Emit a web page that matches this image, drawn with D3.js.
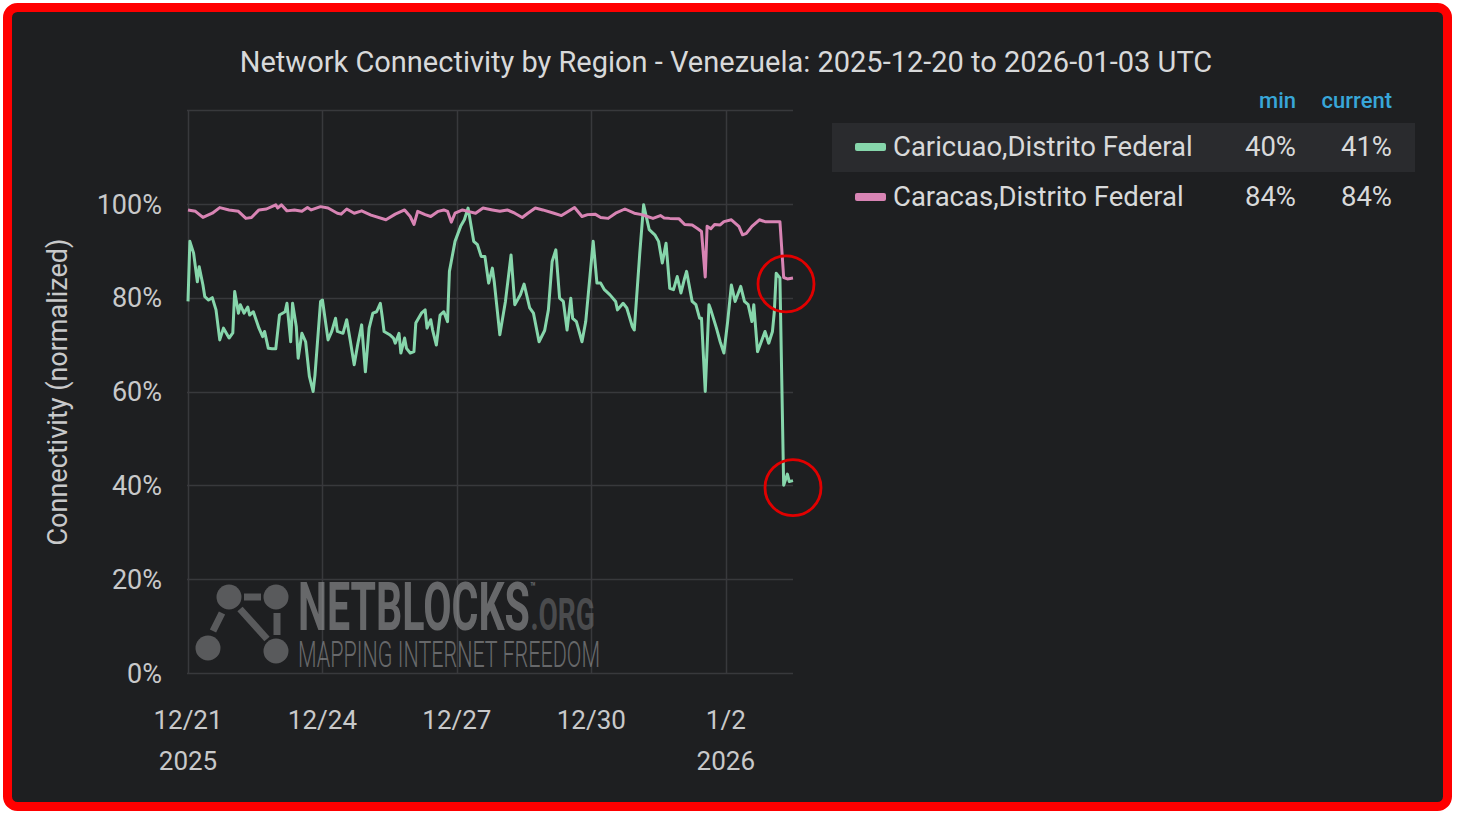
<!DOCTYPE html>
<html>
<head>
<meta charset="utf-8">
<script src="https://cdn.jsdelivr.net/npm/d3@7"></script>
<style>
  html, body { margin: 0; padding: 0; background: #ffffff; }
  svg { display: block; }
  text { font-family: Roboto, "Noto Sans", sans-serif; }
</style>
</head>
<body>
<svg id="chart" width="1457" height="815"></svg>
<script>
// ---------------- data ----------------
const titleText = "Network Connectivity by Region - Venezuela: 2025-12-20 to 2026-01-03 UTC";
const yAxisTitle = "Connectivity (normalized)";
const seriesNames = ["Caricuao,Distrito Federal", "Caracas,Distrito Federal"];
const seriesMin = ["40%", "84%"];
const seriesCurrent = ["41%", "84%"];
const legendHeaders = ["min", "current"];

const yTicks = [0, 20, 40, 60, 80, 100];
const yTickLabels = ["0%", "20%", "40%", "60%", "80%", "100%"];
const xTickDates = ["2025-12-21", "2025-12-24", "2025-12-27", "2025-12-30", "2026-01-02"];
const xTickLabels = ["12/21", "12/24", "12/27", "12/30", "1/2"];
const xTickYears = ["2025", "", "", "", "2026"];

// hours since 2025-12-21 00:00 UTC
const caricuaoHours = [0,1,3,5,6,8,9,11,13,15,17,19,22,24,25,27,28,30,32,33,35,38,40,41,43,45,47,49,52,53,55,56,58,59,61,63,65,67,68,71,72,75,77,79,80,83,85,87,89,91,93,95,97,99,101,103,104,105,108,110,111,113,114,116,117,119,121,122,125,127,128,130,131,133,135,137,139,140,143,146,148,150,153,155,157,159,161,163,164,167,170,173,175,178,180,183,185,188,191,193,195,197,199,201,203,205,206,208,211,213,217,219,221,223,226,229,230,233,235,238,239,242,244,247,250,252,254,256,258,260,262,264,266,267,270,272,274,275,277,279,280,283,285,287,289,291,293,295,296,298,300,302,303,305,307,309,311,313,314,315,317,319,321,322,324];
const caricuaoValues = [79.2,92.0,89.5,83.4,86.6,82.7,80.2,79.5,80.0,77.4,71.0,73.5,71.4,72.5,81.3,76.7,78.5,76.7,78.0,76.3,77.0,73.5,71.7,72.8,69.2,69.1,69.1,76.3,77.0,78.8,70.6,78.8,73.8,67.1,72.4,70.6,63.2,60.0,63.5,79.2,79.5,71.0,72.8,75.6,72.8,72.4,75.3,70.6,65.7,70.3,74.2,64.2,73.5,76.7,77.0,78.8,76.0,72.8,72.1,71.4,70.3,72.4,68.2,71.4,69.2,68.2,68.5,74.6,76.7,77.4,73.5,75.3,73.1,69.9,76.3,77.0,74.9,85.6,92.0,95.2,96.6,99.1,92.0,91.3,88.8,88.8,83.1,86.3,83.4,72.1,79.2,89.1,78.5,80.6,82.9,77.8,76.7,70.6,73.0,77.4,87.7,90.2,79.9,79.2,73.1,79.9,75.6,74.9,70.6,74.9,92.0,83.1,83.1,81.7,80.6,79.2,77.4,78.8,77.8,73.8,73.1,89.8,99.8,94.5,93.4,92.0,87.4,91.6,82.0,81.7,84.5,81.0,84.2,85.6,79.2,78.5,75.6,75.6,60.0,78.5,77.4,73.5,70.6,68.2,74.9,82.7,79.2,81.3,82.4,79.2,78.5,74.9,78.5,68.5,70.6,72.8,70.3,72.8,77.0,85.2,84.2,40.0,42.4,40.8,41.0];

const caracasHours = [0,4,8,13,17,22,27,31,34,38,42,47,48,50,53,57,61,64,66,71,75,80,82,85,89,93,98,106,111,116,119,121,123,127,130,134,137,139,141,143,147,150,154,158,163,167,171,175,179,182,186,190,196,200,202,207,211,214,218,221,225,229,234,239,243,246,249,253,255,258,263,266,270,273,275,277,278,280,282,285,287,291,295,297,299,302,306,309,312,317,319,321,324];
const caracasValues = [98.7,98.4,97.1,98.0,99.2,98.7,98.4,96.9,97.1,98.7,98.9,99.8,99.1,99.8,98.5,98.7,98.4,99.2,98.7,99.4,99.1,98.0,97.8,98.9,98.0,98.5,97.6,96.6,97.8,98.7,97.3,95.6,98.4,97.7,97.3,98.4,98.7,98.4,96.1,98.0,98.7,98.4,98.0,99.1,98.7,98.4,98.7,98.0,97.1,98.0,99.1,98.7,98.0,97.5,98.0,99.2,97.3,97.7,97.8,97.1,96.9,98.0,98.9,98.0,97.7,97.3,96.9,97.5,97.0,96.9,96.8,95.6,95.5,94.7,94.1,84.4,95.2,94.7,95.6,95.5,96.2,96.6,95.2,93.4,93.7,95.2,96.6,96.2,96.2,96.2,84.3,84.0,84.2];

const seriesColors = ["#86d6ab", "#d884b4"];

// ---------------- drawing ----------------
const svg = d3.select("#chart");
const start = Date.UTC(2025, 11, 21, 0, 0, 0);
const hourMs = 3600 * 1000;
const toDate = h => new Date(start + h * hourMs);

const plot = { left: 188, right: 793, top: 110, bottom: 673 };

// frame
svg.append("rect")
  .attr("x", 7.5).attr("y", 7.5).attr("width", 1440).attr("height", 799)
  .attr("rx", 10).attr("ry", 10)
  .attr("fill", "#1e1f21").attr("stroke", "#ff0000").attr("stroke-width", 9);

// title
svg.append("text")
  .attr("x", 726).attr("y", 72)
  .attr("text-anchor", "middle")
  .attr("font-size", 29)
  .attr("fill", "#d8d9da")
  .text(titleText);

const x = d3.scaleUtc()
  .domain([toDate(0), toDate(324)])
  .range([plot.left, plot.right]);
const y = d3.scaleLinear()
  .domain([0, 120])
  .range([plot.bottom, plot.top]);

const grid = svg.append("g");
grid.selectAll("line.h")
  .data(yTicks.concat([120]))
  .join("line")
  .attr("x1", plot.left - 1).attr("x2", plot.right)
  .attr("y1", d => Math.round(y(d)) + 0.5).attr("y2", d => Math.round(y(d)) + 0.5)
  .attr("stroke", "#38393c").attr("stroke-width", 1.5);
const xTickDateObjs = xTickDates.map(s => new Date(s + "T00:00:00Z"));
grid.selectAll("line.v")
  .data(xTickDateObjs)
  .join("line")
  .attr("x1", d => Math.round(x(d)) + 0.5).attr("x2", d => Math.round(x(d)) + 0.5)
  .attr("y1", plot.top).attr("y2", plot.bottom)
  .attr("stroke", "#38393c").attr("stroke-width", 1.5);

// y tick labels
svg.append("g").selectAll("text")
  .data(yTicks)
  .join("text")
  .attr("x", 162).attr("y", d => y(d))
  .attr("dy", "0.36em")
  .attr("text-anchor", "end")
  .attr("font-size", 27)
  .attr("fill", "#c8c9ca")
  .text((d, i) => yTickLabels[i]);

// x tick labels
const xl = svg.append("g");
xl.selectAll("text.d")
  .data(xTickDateObjs)
  .join("text")
  .attr("x", d => x(d)).attr("y", 729)
  .attr("text-anchor", "middle")
  .attr("font-size", 26)
  .attr("fill", "#c8c9ca")
  .text((d, i) => xTickLabels[i]);
xl.selectAll("text.yr")
  .data(xTickDateObjs)
  .join("text")
  .attr("x", d => x(d)).attr("y", 770)
  .attr("text-anchor", "middle")
  .attr("font-size", 26)
  .attr("fill", "#c8c9ca")
  .text((d, i) => xTickYears[i]);

// y-axis title
svg.append("text")
  .attr("transform", "translate(67,392) rotate(-90)")
  .attr("text-anchor", "middle")
  .attr("font-size", 27)
  .attr("fill", "#c8c9ca")
  .text(yAxisTitle);

// watermark
const wm = svg.append("g").attr("opacity", 0.55);
const wmFill = "#8a8b8d";
[[229, 597], [276, 597], [208, 648], [276, 651]].forEach(([cx, cy]) => {
  wm.append("circle").attr("cx", cx).attr("cy", cy).attr("r", 12.5).attr("fill", wmFill);
});
wm.append("line").attr("x1", 244).attr("y1", 597).attr("x2", 261).attr("y2", 597)
  .attr("stroke", wmFill).attr("stroke-width", 7);
wm.append("line").attr("x1", 240).attr("y1", 609).attr("x2", 267).attr("y2", 639)
  .attr("stroke", wmFill).attr("stroke-width", 7);
wm.append("line").attr("x1", 277).attr("y1", 613).attr("x2", 277).attr("y2", 635)
  .attr("stroke", wmFill).attr("stroke-width", 7);
wm.append("line").attr("x1", 222).attr("y1", 613).attr("x2", 213).attr("y2", 631)
  .attr("stroke", wmFill).attr("stroke-width", 7);
const brandG = wm.append("g");
const brand = brandG.append("text").attr("x", 0).attr("y", 0).attr("font-weight", 700);
brand.append("tspan").attr("font-size", 66).attr("fill", "#a4a5a7").text("NETBLOCKS");
brand.append("tspan").attr("font-size", 14).attr("dy", -38).attr("fill", "#a4a5a7").text("™");
brand.append("tspan").attr("font-size", 45).attr("dx", -8).attr("dy", 38).attr("fill", "#6f7072").text(".ORG");
const bw = brand.node().getComputedTextLength();
brandG.attr("transform", `translate(298,630) scale(${302 / bw},1)`);
wm.append("text").attr("x", 298).attr("y", 667)
  .attr("font-size", 37).attr("font-weight", 300).attr("fill", "#a4a5a7")
  .attr("textLength", 302).attr("lengthAdjust", "spacingAndGlyphs")
  .text("MAPPING INTERNET FREEDOM");

// lines
const line = d3.line()
  .x(d => x(toDate(d[0])))
  .y(d => y(d[1]))
  .curve(d3.curveLinear);
const series = [
  d3.zip(caricuaoHours, caricuaoValues),
  d3.zip(caracasHours, caracasValues)
];
svg.append("g").selectAll("path")
  .data(series)
  .join("path")
  .attr("d", line)
  .attr("fill", "none")
  .attr("stroke", (d, i) => seriesColors[i])
  .attr("stroke-width", 3)
  .attr("stroke-linejoin", "round");

// annotation circles around the latest values (green first, then pink)
const lastPts = series.map(s => s[s.length - 1]);
const circleOffsets = [[0, 7], [-7, 6]];
svg.append("g").selectAll("circle")
  .data(lastPts)
  .join("circle")
  .attr("cx", (d, i) => x(toDate(d[0])) + circleOffsets[i][0])
  .attr("cy", (d, i) => y(d[1]) + circleOffsets[i][1])
  .attr("r", 28)
  .attr("fill", "none")
  .attr("stroke", "#e10000")
  .attr("stroke-width", 2.8);

// legend
const lg = svg.append("g");
lg.append("rect").attr("x", 832).attr("y", 123).attr("width", 583).attr("height", 49)
  .attr("fill", "#2a2b2e");
lg.selectAll("text.hdr")
  .data(legendHeaders)
  .join("text")
  .attr("x", (d, i) => [1296, 1392][i]).attr("y", 108)
  .attr("text-anchor", "end")
  .attr("font-size", 22).attr("font-weight", 500)
  .attr("fill", "#38a6d8")
  .text(d => d);
const rows = lg.selectAll("g.row")
  .data(seriesNames)
  .join("g")
  .attr("transform", (d, i) => `translate(0,${147 + i * 50})`);
rows.append("rect")
  .attr("x", 855).attr("y", -4).attr("width", 31).attr("height", 8).attr("rx", 2)
  .attr("fill", (d, i) => seriesColors[i]);
rows.append("text")
  .attr("x", 893).attr("y", 9)
  .attr("font-size", 27.5).attr("fill", "#d8d9da")
  .text(d => d);
rows.append("text")
  .attr("x", 1296).attr("y", 9).attr("text-anchor", "end")
  .attr("font-size", 27.5).attr("fill", "#d8d9da")
  .text((d, i) => seriesMin[i]);
rows.append("text")
  .attr("x", 1392).attr("y", 9).attr("text-anchor", "end")
  .attr("font-size", 27.5).attr("fill", "#d8d9da")
  .text((d, i) => seriesCurrent[i]);
</script>
</body>
</html>
